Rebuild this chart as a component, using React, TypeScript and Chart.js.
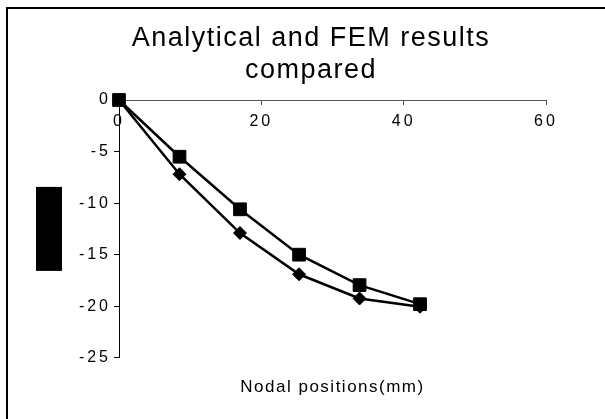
import React, { useEffect, useRef } from "react";
import { Chart, registerables } from "chart.js";

Chart.register(...registerables);

const titleLines = ["Analytical and FEM results", "compared"];
const xAxisTitle = "Nodal positions(mm)";
const xPositions = [0, 8.5, 17, 25.3, 33.8, 42.3];
const femValues = [0, -5.5, -10.6, -15.0, -17.95, -19.8];
const analyticalValues = [0, -7.2, -12.9, -16.9, -19.25, -20.05];
const xTickValues = [0, 20, 40, 60];
const yTickValues = [0, -5, -10, -15, -20, -25];

const FONT = "'Liberation Sans', Arial, Helvetica, sans-serif";

const spacingPlugin = {
  id: "letterSpacing",
  beforeUpdate(chart: any) {
    chart.ctx.letterSpacing = "1.5px";
  },
  beforeDraw(chart: any) {
    chart.ctx.letterSpacing = "1.5px";
  },
};

function spaceTickLabels(scale: any, spacing: string) {
  if (scale.__spaced) return;
  scale.__spaced = true;
  const orig = scale.drawLabels;
  scale.drawLabels = function (area: any) {
    const ctx = this.ctx;
    const prev = ctx.letterSpacing;
    ctx.letterSpacing = spacing;
    orig.call(this, area);
    ctx.letterSpacing = prev;
  };
}

const yTitleBoxPlugin = {
  id: "yTitleBox",
  afterDraw(chart: any) {
    const { ctx, chartArea } = chart;
    const mid = (chartArea.top + chartArea.bottom) / 2;
    ctx.save();
    ctx.fillStyle = "#000";
    ctx.fillRect(chartArea.left - 83, mid - 42, 26, 84);
    ctx.restore();
  },
};

export default function App() {
  const canvasRef = useRef<HTMLCanvasElement>(null);

  useEffect(() => {
    if (!canvasRef.current) return;
    const toPoints = (vals: number[]) =>
      xPositions.map((x, i) => ({ x, y: vals[i] }));

    const chart = new Chart(canvasRef.current, {
      type: "scatter",
      data: {
        datasets: [
          {
            label: "FEM",
            data: toPoints(femValues),
            showLine: true,
            borderColor: "#000",
            backgroundColor: "#000",
            borderWidth: 2.5,
            pointStyle: "rect",
            pointRadius: 9,
            pointBorderWidth: 1,
            pointBackgroundColor: "#000",
            pointBorderColor: "#000",
            clip: false as any,
            order: 0,
          },
          {
            label: "Analytical",
            data: toPoints(analyticalValues),
            showLine: true,
            borderColor: "#000",
            backgroundColor: "#000",
            borderWidth: 2.5,
            pointStyle: "rectRot",
            pointRadius: 6.5,
            pointBorderWidth: 1,
            pointBackgroundColor: "#000",
            pointBorderColor: "#000",
            clip: false as any,
            order: 1,
          },
        ],
      },
      options: {
        animation: false,
        responsive: false,
        maintainAspectRatio: false,
        color: "#000",
        layout: { padding: { left: 76, right: 59, top: 0, bottom: 0 } },
        plugins: {
          legend: { display: false },
          tooltip: { enabled: false },
          title: {
            display: true,
            text: titleLines,
            color: "#000",
            font: { family: FONT, size: 27, weight: "normal", lineHeight: 32 / 27 },
            padding: { top: 23, bottom: 13 },
          },
          subtitle: {
            display: true,
            text: xAxisTitle,
            position: "bottom",
            fullSize: false,
            color: "#000",
            font: { family: FONT, size: 17, weight: "normal", lineHeight: 1.2 },
            padding: { top: 19, bottom: 21.8 },
          },
        },
        scales: {
          x: {
            type: "linear",
            position: { y: 0 } as any,
            min: 0,
            max: 60,
            afterBuildTicks: (scale: any) => {
              scale.ticks = xTickValues.map((v) => ({ value: v }));
              spaceTickLabels(scale, "3px");
            },
            ticks: {
              color: "#000",
              font: { family: FONT, size: 16 },
              padding: 8,
              maxRotation: 0,
            },
            grid: {
              drawOnChartArea: false,
              drawTicks: true,
              tickLength: 4,
              color: "#555",
            },
            border: { display: true, color: "#555", width: 1 },
            title: { display: false },
          },
          y: {
            type: "linear",
            position: "left",
            min: -25,
            max: 0,
            afterBuildTicks: (scale: any) => {
              scale.ticks = yTickValues.map((v) => ({ value: v }));
              spaceTickLabels(scale, "3px");
            },
            afterFit: (scale: any) => {
              scale.width = 43;
            },
            ticks: {
              color: "#000",
              font: { family: FONT, size: 16 },
              padding: 3,
            },
            grid: {
              drawOnChartArea: false,
              drawTicks: true,
              tickLength: 5,
              color: "#000",
            },
            border: { display: true, color: "#000", width: 1 },
            title: { display: false },
          },
        },
      },
      plugins: [spacingPlugin, yTitleBoxPlugin],
    });

    return () => chart.destroy();
  }, []);

  return (
    <div style={{ position: "fixed", left: 0, top: 0, width: 605, height: 419, background: "#fff" }}>
      <div
        style={{
          position: "absolute",
          left: 6,
          top: 7,
          width: 599,
          height: 412,
          boxSizing: "border-box",
          borderLeft: "2px solid #000",
          borderTop: "2px solid #000",
        }}
      />
      <canvas
        ref={canvasRef}
        width={605}
        height={419}
        style={{ position: "absolute", left: 0, top: 0, width: 605, height: 419 }}
      />
    </div>
  );
}
